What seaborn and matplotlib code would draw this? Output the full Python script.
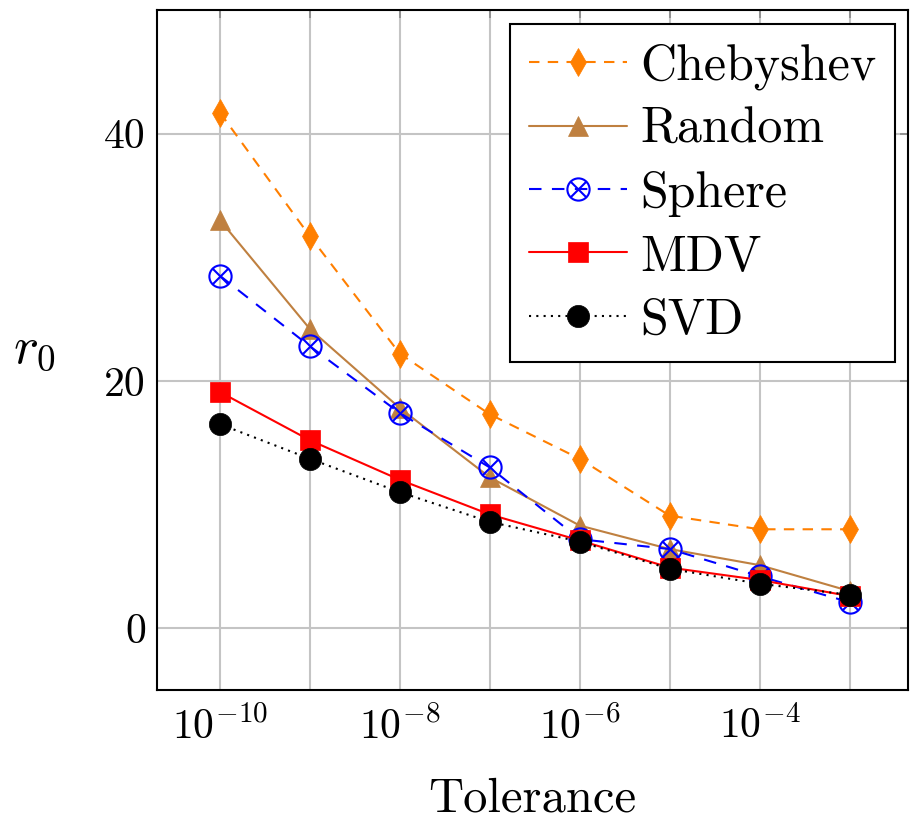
import matplotlib
matplotlib.use("Agg")
import matplotlib.pyplot as plt
import seaborn as sns
import numpy as np
import pandas as pd
from matplotlib.path import Path
from matplotlib.ticker import FixedLocator, FuncFormatter, NullLocator

tolerance = [1e-10, 1e-9, 1e-8, 1e-7, 1e-6, 1e-5, 1e-4, 1e-3]
chebyshev = [41.7, 31.7, 22.2, 17.3, 13.7, 9.1, 8.0, 8.0]
random_v = [33.0, 24.2, 17.8, 12.2, 8.3, 6.4, 5.1, 3.0]
sphere = [28.5, 22.8, 17.4, 13.0, 7.2, 6.4, 4.2, 2.1]
mdv = [19.1, 15.2, 12.0, 9.2, 7.1, 4.9, 3.9, 2.6]
svd = [16.5, 13.7, 11.0, 8.6, 7.0, 4.8, 3.6, 2.7]

series_names = ["Chebyshev", "Random", "Sphere", "MDV", "SVD"]
series_values = [chebyshev, random_v, sphere, mdv, svd]
xtick_labels = {-10: r"$10^{-10}$", -8: r"$10^{-8}$", -6: r"$10^{-6}$", -4: r"$10^{-4}$"}

sns.set_theme(style="white")
plt.rcParams["font.family"] = ["cmr10", "DejaVu Serif"]
plt.rcParams["mathtext.fontset"] = "cm"
plt.rcParams["axes.formatter.use_mathtext"] = True
plt.rcParams["axes.unicode_minus"] = False
plt.rcParams["text.color"] = "black"
plt.rcParams["axes.labelcolor"] = "black"

fig = plt.figure(figsize=(9.10, 8.21), dpi=100)
ax = fig.add_axes([157/910, 1-690/821, (908-157)/910, (690-10)/821])

circ = Path.unit_circle()
d = 0.7071
otimes = Path.make_compound_path(
    circ,
    Path([(-d, -d), (d, d)], [Path.MOVETO, Path.LINETO]),
    Path([(-d, d), (d, -d)], [Path.MOVETO, Path.LINETO]),
)

styles = {
    "Chebyshev": dict(color="#FF7F00", linestyle=(0, (5, 4)), marker="d", markersize=14,
                      mfc="#FF7F00", mec="#FF7F00", mew=0.5),
    "Random": dict(color="#BF8040", linestyle="-", marker="^", markersize=15,
                   mfc="#BF8040", mec="#BF8040", mew=0.5),
    "Sphere": dict(color="#0000FF", linestyle=(0, (6, 5)), marker=otimes, markersize=16,
                   mfc="none", mec="#0000FF", mew=1.5),
    "MDV": dict(color="#FF0000", linestyle="-", marker="s", markersize=14,
                mfc="#FF0000", mec="#FF0000", mew=0.5),
    "SVD": dict(color="black", linestyle=(0, (1, 2.5)), marker="o", markersize=16,
                mfc="black", mec="black", mew=0.5),
}

for name, vals in zip(series_names, series_values):
    df = pd.DataFrame({"tol": tolerance, "r0": vals})
    sns.lineplot(data=df, x="tol", y="r0", ax=ax, label=name, linewidth=1.5,
                 **styles[name])

ax.set_xscale("log")
ax.set_xlim(10**-10.7, 10**-2.35)
ax.set_ylim(-5, 50)

ax.xaxis.set_major_locator(FixedLocator([10.0**k for k in range(-10, -2)]))
ax.xaxis.set_minor_locator(NullLocator())
ax.xaxis.set_major_formatter(FuncFormatter(
    lambda v, p: xtick_labels.get(int(round(np.log10(v))), "")))
ax.yaxis.set_major_locator(FixedLocator([0, 20, 40]))
ax.yaxis.set_major_formatter(FuncFormatter(lambda v, p: f"{int(v)}"))

ax.grid(True, which="major", color="#c4c4c4", linewidth=1.5)
ax.set_axisbelow(True)
ax.tick_params(axis="both", direction="in", length=6, width=1.2, colors="#888888",
               labelcolor="black", labelsize=30, top=True, right=True, pad=8)
ax.tick_params(axis="x", pad=12)
for sp in ax.spines.values():
    sp.set_color("black")
    sp.set_linewidth(1.5)

ax.set_xlabel("Tolerance", fontsize=35, labelpad=22)
ax.set_ylabel(r"$r_0$", fontsize=38, rotation=0, labelpad=50, va="center")

leg = ax.legend(loc="upper right", bbox_to_anchor=(0.983, 0.979), fontsize=36,
                frameon=True, fancybox=False, edgecolor="black", framealpha=1,
                handlelength=1.95, handletextpad=0.26, labelspacing=0.35,
                borderpad=0.38, borderaxespad=0, numpoints=1)
leg.get_frame().set_linewidth(1.5)
for t in leg.get_texts():
    t.set_color("black")

fig.savefig("out.png", dpi=100)
